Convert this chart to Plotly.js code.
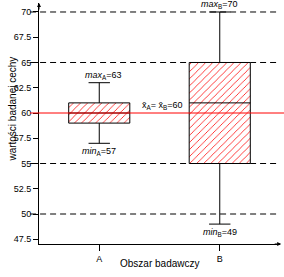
<!DOCTYPE html>
<html><head><meta charset="utf-8">
<script src="https://cdn.plot.ly/plotly-3.0.1.min.js"></script>
<style>html,body{margin:0;padding:0;background:#fff}</style>
</head><body><div id="c" style="width:284px;height:277px"></div>
<script>
const categories = ['A', 'B'];
const minVals = [57, 49];
const q1Vals = [59, 55];
const medianVals = [60, 61];
const q3Vals = [61, 65];
const maxVals = [63, 70];
const meanVal = 60;
const gridVals = [50, 55, 65, 70];
const yTicks = [47.5, 50, 52.5, 55, 57.5, 60, 62.5, 65, 67.5, 70];
const subs = ['A', 'B'];

const F = 'Arial, "Liberation Sans", sans-serif';
const traces = [
  {type: 'bar', x: categories, base: q1Vals, y: q3Vals.map((v, i) => v - q1Vals[i]),
   width: 0.507, hoverinfo: 'skip', showlegend: false,
   marker: {color: 'white', line: {width: 0},
     pattern: {shape: '/', fgcolor: '#ff0000', bgcolor: 'white', size: 5, solidity: 0.15}}},
  {type: 'box', x: categories, q1: q1Vals, median: medianVals, q3: q3Vals,
   lowerfence: minVals, upperfence: maxVals, boxpoints: false, width: 0.507,
   whiskerwidth: 0.35, fillcolor: 'rgba(0,0,0,0)', line: {color: 'black', width: 1},
   hoverinfo: 'skip', showlegend: false}
];

const shapes = gridVals.map(v => ({type: 'line', xref: 'paper', yref: 'y', x0: -0.037, x1: 0.995,
  y0: v, y1: v, layer: 'below', line: {color: 'black', width: 1, dash: '6px,4px'}}));
shapes.push({type: 'line', xref: 'paper', yref: 'y', x0: -0.037, x1: 1.02, y0: meanVal, y1: meanVal,
  layer: 'above', line: {color: '#ff0000', width: 1}});

const af = {family: F, size: 9, color: 'black'};
const annotations = [];
categories.forEach((c, i) => {
  annotations.push({x: c, y: maxVals[i], xref: 'x', yref: 'y', showarrow: false, yanchor: 'bottom',
    xshift: i === 0 ? 4 : 0, yshift: 0, font: af,
    text: '<i>max</i><sub>' + subs[i] + '</sub>=' + maxVals[i]});
  annotations.push({x: c, y: minVals[i], xref: 'x', yref: 'y', showarrow: false, yanchor: 'top',
    xshift: 0, yshift: -1, font: af,
    text: '<i>min</i><sub>' + subs[i] + '</sub>=' + minVals[i]});
});
annotations.push({x: 'B', y: meanVal, xref: 'x', yref: 'y', showarrow: false, yanchor: 'bottom',
  xshift: -58, yshift: 0, font: af,
  text: 'x\u0304<sub>A</sub>= x\u0304<sub>B</sub>=' + meanVal});
annotations.push({x: -0.145, y: 0.56, xref: 'paper', yref: 'paper', showarrow: false, textangle: -90,
  text: 'wartości badanej cechy', font: {family: F, size: 10, color: 'black'}});
annotations.push({x: 0.5, y: -0.112, xref: 'paper', yref: 'paper', showarrow: false,
  text: 'Obszar badawczy', font: {family: F, size: 10, color: 'black'}});
// axis arrowheads
annotations.push({x: 0, y: 1, xref: 'paper', yref: 'paper', ax: 0, ay: 8, showarrow: true,
  arrowhead: 2, arrowsize: 0.8, arrowwidth: 1, arrowcolor: 'black', text: ''});
annotations.push({x: 1.005, y: 0, xref: 'paper', yref: 'paper', ax: -8, ay: 0, showarrow: true,
  arrowhead: 2, arrowsize: 0.8, arrowwidth: 1, arrowcolor: 'black', text: ''});

const layout = {
  width: 284, height: 277,
  margin: {l: 39, r: 4, t: 3, b: 33, pad: 0},
  paper_bgcolor: 'white', plot_bgcolor: 'white',
  showlegend: false, barmode: 'overlay', boxmode: 'overlay',
  font: {family: F, size: 9, color: 'black'},
  xaxis: {type: 'category', range: [-0.5, 1.5], showline: true, linecolor: 'black', linewidth: 1,
    ticks: 'outside', ticklen: 6, tickcolor: 'black', showgrid: false, zeroline: false,
    tickfont: {family: F, size: 9, color: 'black'}},
  yaxis: {range: [47.03, 70.89], showline: true, linecolor: 'black', linewidth: 1,
    tickvals: yTicks, ticktext: yTicks.map(String), ticks: 'outside', ticklen: 5, tickcolor: 'black',
    showgrid: false, zeroline: false, tickfont: {family: F, size: 9, color: 'black'}},
  shapes: shapes, annotations: annotations
};
Plotly.newPlot('c', traces, layout, {staticPlot: true, displayModeBar: false});
</script></body></html>
